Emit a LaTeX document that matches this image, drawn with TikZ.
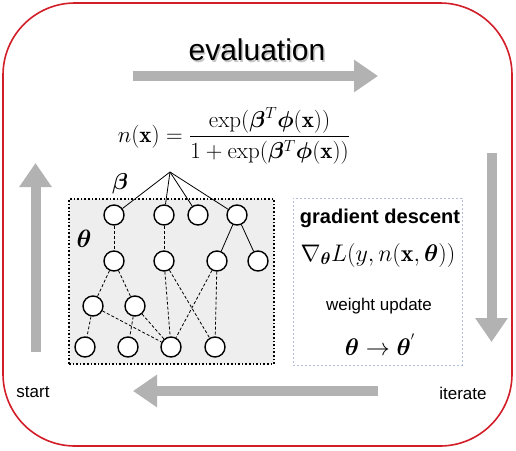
\RequirePackage{fix-cm}
\documentclass[tikz,border=0pt]{standalone}
\usepackage{amsmath,bm}
\usepackage{fontspec}
\newfontfamily\arialf{Liberation Sans}
\usetikzlibrary{arrows.meta}
\definecolor{framered}{RGB}{210,30,40}
\definecolor{arrgray}{RGB}{178,178,178}
\definecolor{boxgray}{RGB}{238,238,238}
\definecolor{gdblue}{RGB}{175,190,218}
\tikzset{
  neuron/.style={circle, draw, line width=1.4pt, fill=white, minimum size=20pt, inner sep=0pt},
  dl/.style={line width=0.8pt, dash pattern=on 3pt off 2pt},
  sl/.style={line width=0.8pt},
  bigarrow/.style={draw=arrgray, line width=10pt, line cap=butt,
     -{Triangle[length=24pt,width=31pt]}},
  sanslabel/.style={font=\arialf\fontsize{17}{20}\selectfont, inner sep=0pt},
  mathlabel/.style={font=\fontsize{23}{27}\selectfont, inner sep=0pt}
}
\begin{document}
\begin{tikzpicture}[x=1pt,y=-1pt]
\useasboundingbox (0,0) rectangle (516,450);
% frame
\node[draw=framered, line width=1.6pt, fill=white, rounded corners=72pt,
      minimum width=509pt, minimum height=443pt, inner sep=0pt] (frame) at (257.5,224.5) {};
% title
\node[font=\arialf\fontsize{30}{34}\selectfont, text=gray!45, inner sep=0pt] (evalsh) at (258.5,51.5) {evaluation};
\node[font=\arialf\fontsize{30}{34}\selectfont, inner sep=0pt] (eval) at (257,50) {evaluation};
% big arrows
\coordinate (t1) at (133,76); \coordinate (t2) at (378,76);
\coordinate (r1) at (491.5,153); \coordinate (r2) at (491.5,342);
\coordinate (b1) at (378,391); \coordinate (b2) at (133,391);
\coordinate (l1) at (35.5,352); \coordinate (l2) at (35.5,163);
\draw[bigarrow] (t1) -- (t2);
\draw[bigarrow] (r1) -- (r2);
\draw[bigarrow] (b1) -- (b2);
\draw[bigarrow] (l1) -- (l2);
% formula
\node[mathlabel] (formula) at (234,136) {$n(\mathbf{x})=\dfrac{\exp(\bm{\beta}^T\bm{\phi}(\mathbf{x}))}{1+\exp(\bm{\beta}^T\bm{\phi}(\mathbf{x}))}$};
% network box
\node[draw, dotted, line width=1.6pt, fill=boxgray, minimum width=205pt, minimum height=165pt, inner sep=0pt] (netbox) at (171.5,281.5) {};
\node[font=\fontsize{23}{27}\selectfont, inner sep=0pt] (betalab) at (120,184) {$\bm{\beta}$};
\node[font=\fontsize{25}{29}\selectfont, inner sep=0pt] (thetalab) at (84,239) {$\bm{\theta}$};
\coordinate (apex) at (170,172);
\node[neuron] (a1) at (114,215) {};
\node[neuron] (a2) at (164,215) {};
\node[neuron] (a3) at (198,215) {};
\node[neuron] (a4) at (237,215) {};
\node[neuron] (n1) at (114,261) {};
\node[neuron] (n2) at (164,261) {};
\node[neuron] (n3) at (217,261) {};
\node[neuron] (n4) at (258,261) {};
\node[neuron] (c1) at (93,306) {};
\node[neuron] (c2) at (135,306) {};
\node[neuron] (d1) at (85,347) {};
\node[neuron] (d2) at (128,347) {};
\node[neuron] (d3) at (171,347) {};
\node[neuron] (d4) at (215,347) {};
\foreach \n in {a1,a2,a3,a4} \draw[sl] (apex) -- (\n);
\draw[sl] (a4) -- (n3);
\draw[sl] (a4) -- (n4);
\draw[dl] (a1) -- (n1);
\draw[dl] (a2) -- (n2);
\draw[dl] (n1) -- (c1);
\draw[dl] (n1) -- (c2);
\draw[dl] (c1) -- (d1);
\draw[dl] (c2) -- (d2);
\draw[dl] (c1) -- (d3);
\draw[dl] (c2) -- (d3);
\draw[dl] (n2) -- (d3);
\draw[dl] (n2) -- (d4);
\draw[dl] (n3) -- (d3);
\draw[dl] (n3) -- (d4);
% gradient box
\node[draw=gdblue, line width=1pt, dash pattern=on 2pt off 2pt, fill=white, minimum width=169pt, minimum height=167pt, inner sep=0pt] (gbox) at (377.5,281.5) {};
\node[font=\arialf\bfseries\fontsize{20}{24}\selectfont, inner sep=0pt] (gd) at (380,218) {gradient descent};
\node[font=\fontsize{24}{28}\selectfont, inner sep=0pt] (grad) at (378,255) {$\nabla_{\bm{\theta}}L(y,n(\mathbf{x},\bm{\theta}))$};
\node[sanslabel] (wu) at (379,306) {weight update};
\node[font=\fontsize{24}{28}\selectfont, inner sep=0pt] (upd) at (380,345) {$\bm{\theta}\rightarrow\bm{\theta}^{'}$};
% labels
\node[sanslabel] (start) at (33,392) {start};
\node[sanslabel] (iter) at (463,393) {iterate};
\end{tikzpicture}
\end{document}
